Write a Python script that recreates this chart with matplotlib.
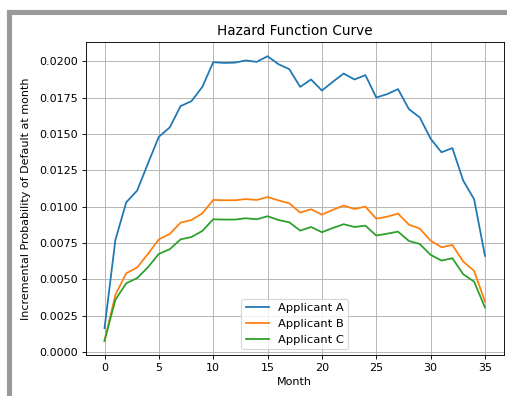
import matplotlib
matplotlib.use("Agg")
import matplotlib.pyplot as plt
from matplotlib.patches import Rectangle

months = list(range(36))
applicant_a = [0.00165, 0.00772, 0.01031, 0.01111, 0.01299, 0.01482, 0.01546, 0.01693, 0.01727, 0.01825,
               0.01995, 0.01990, 0.01992, 0.02007, 0.01997, 0.02036, 0.01981, 0.01947, 0.01825, 0.01876,
               0.01800, 0.01860, 0.01917, 0.01876, 0.01906, 0.01752, 0.01775, 0.01810, 0.01672, 0.01615,
               0.01468, 0.01375, 0.01404, 0.01180, 0.01052, 0.00662]
applicant_b = [0.00078, 0.00394, 0.00543, 0.00582, 0.00676, 0.00776, 0.00813, 0.00891, 0.00909, 0.00955,
               0.01047, 0.01045, 0.01045, 0.01053, 0.01047, 0.01067, 0.01044, 0.01024, 0.00960, 0.00983,
               0.00946, 0.00979, 0.01008, 0.00985, 0.01001, 0.00918, 0.00932, 0.00953, 0.00877, 0.00850,
               0.00767, 0.00722, 0.00737, 0.00623, 0.00559, 0.00348]
applicant_c = [0.00078, 0.00360, 0.00474, 0.00509, 0.00584, 0.00676, 0.00708, 0.00776, 0.00792, 0.00834,
               0.00914, 0.00912, 0.00912, 0.00921, 0.00914, 0.00935, 0.00909, 0.00893, 0.00836, 0.00861,
               0.00825, 0.00854, 0.00880, 0.00861, 0.00870, 0.00802, 0.00815, 0.00829, 0.00765, 0.00744,
               0.00669, 0.00630, 0.00646, 0.00536, 0.00485, 0.00307]
labels = ["Applicant A", "Applicant B", "Applicant C"]

W, H = 507, 396
DPI = 80
fig = plt.figure(figsize=(W / DPI, H / DPI), dpi=DPI)
ax = fig.add_axes([85.5 / W, 1 - 355 / H, (504 - 85.5) / W, (355 - 42) / H])

for vals, lab in zip([applicant_a, applicant_b, applicant_c], labels):
    ax.plot(months, vals, label=lab, linewidth=1.6)

ax.set_title("Hazard Function Curve", fontsize=12.3)
ax.set_xlabel("Month")
ax.set_ylabel("Incremental Probability of Default at month", labelpad=7)
ax.grid(True)
ax.legend(loc="lower center", fontsize=10.3)

# gray frame of the screenshot
fig.patches.append(Rectangle((7 / W, 1 - 14 / H), 1 - 7 / W, 4 / H, transform=fig.transFigure,
                             color="#9a9a9a", zorder=-1))
fig.patches.append(Rectangle((7 / W, 0), 4 / W, 1 - 10 / H, transform=fig.transFigure,
                             color="#9a9a9a", zorder=-1))

fig.savefig("out.png", dpi=DPI)
